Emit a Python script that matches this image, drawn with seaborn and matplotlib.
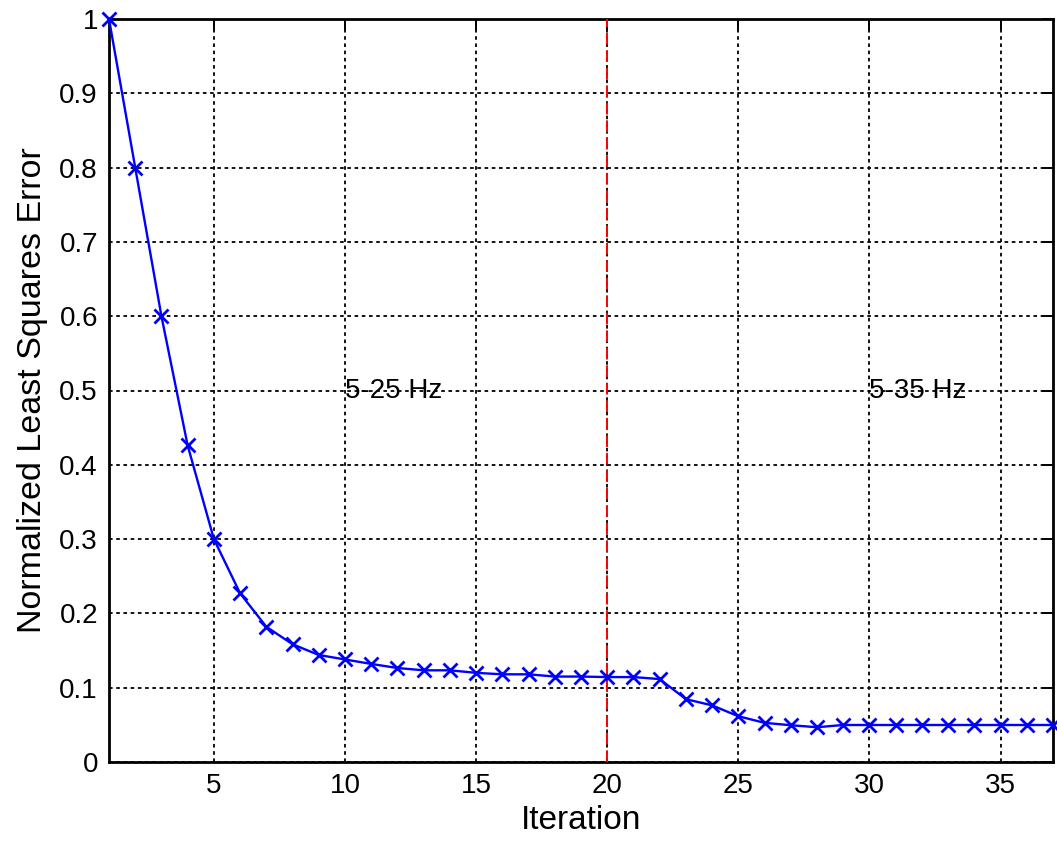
import matplotlib
matplotlib.use("Agg")
import matplotlib.pyplot as plt
import seaborn as sns
import pandas as pd
import numpy as np

iterations = list(range(1, 38))
error = [1.0, 0.8, 0.6, 0.426, 0.3, 0.227, 0.182, 0.1585, 0.144, 0.138,
         0.132, 0.1265, 0.1234, 0.1234, 0.120, 0.118, 0.118, 0.115, 0.115, 0.1143,
         0.1143, 0.1116, 0.0846, 0.0762, 0.0616, 0.0527, 0.0495, 0.0468, 0.0498, 0.0498,
         0.0498, 0.0498, 0.0498, 0.0498, 0.0498, 0.0498, 0.0498]
x_ticks = [5, 10, 15, 20, 25, 30, 35]
y_ticks = [0, 0.1, 0.2, 0.3, 0.4, 0.5, 0.6, 0.7, 0.8, 0.9, 1]
y_tick_labels = ["0", "0.1", "0.2", "0.3", "0.4", "0.5", "0.6", "0.7", "0.8", "0.9", "1"]
switch_iter = 20
band_labels = ["5-25 Hz", "5-35 Hz"]
band_label_x = [10, 30]
band_label_y = 0.5

df = pd.DataFrame({"Iteration": iterations, "Error": error})

sns.set_style("white")
plt.rcParams["font.family"] = ["Liberation Sans", "DejaVu Sans"]
plt.rcParams["text.color"] = "black"
plt.rcParams["axes.labelcolor"] = "black"

fig = plt.figure(figsize=(10.57, 8.52), dpi=100)
ax = fig.add_axes([109 / 1057, 1 - 762 / 852, (1053 - 109) / 1057, (762 - 19) / 852])

sns.lineplot(data=df, x="Iteration", y="Error", ax=ax, color="#0000ff",
             marker="x", markersize=10, markeredgewidth=2.0, linewidth=1.7,
             markeredgecolor="#0000ff", zorder=5, clip_on=False)

ax.plot([switch_iter, switch_iter], [0, 1], color="#ff0000", linestyle=(0, (6, 3)),
        linewidth=1.4, zorder=4)

for lbl, xx in zip(band_labels, band_label_x):
    ax.text(xx, band_label_y, lbl, fontsize=20, ha="left", va="center",
            color="black", zorder=1)

ax.set_xlim(1, 37)
ax.set_ylim(0, 1)
ax.set_xticks(x_ticks)
ax.set_yticks(y_ticks)
ax.set_yticklabels(y_tick_labels)
ax.grid(True, color="black", linestyle=(0, (2, 2)), linewidth=1.3, zorder=2)
ax.set_axisbelow(False)
for sp in ax.spines.values():
    sp.set_visible(True)
    sp.set_color("black")
    sp.set_linewidth(2.0)
ax.tick_params(axis="both", which="both", direction="in", length=8, width=1.4,
               top=True, right=True, labelsize=20, pad=8, colors="black")
ax.set_xlabel("Iteration", fontsize=24, labelpad=4, color="black")
ax.set_ylabel("Normalized Least Squares Error", fontsize=24.5, labelpad=8, color="black")

fig.savefig("out.png", dpi=100)
